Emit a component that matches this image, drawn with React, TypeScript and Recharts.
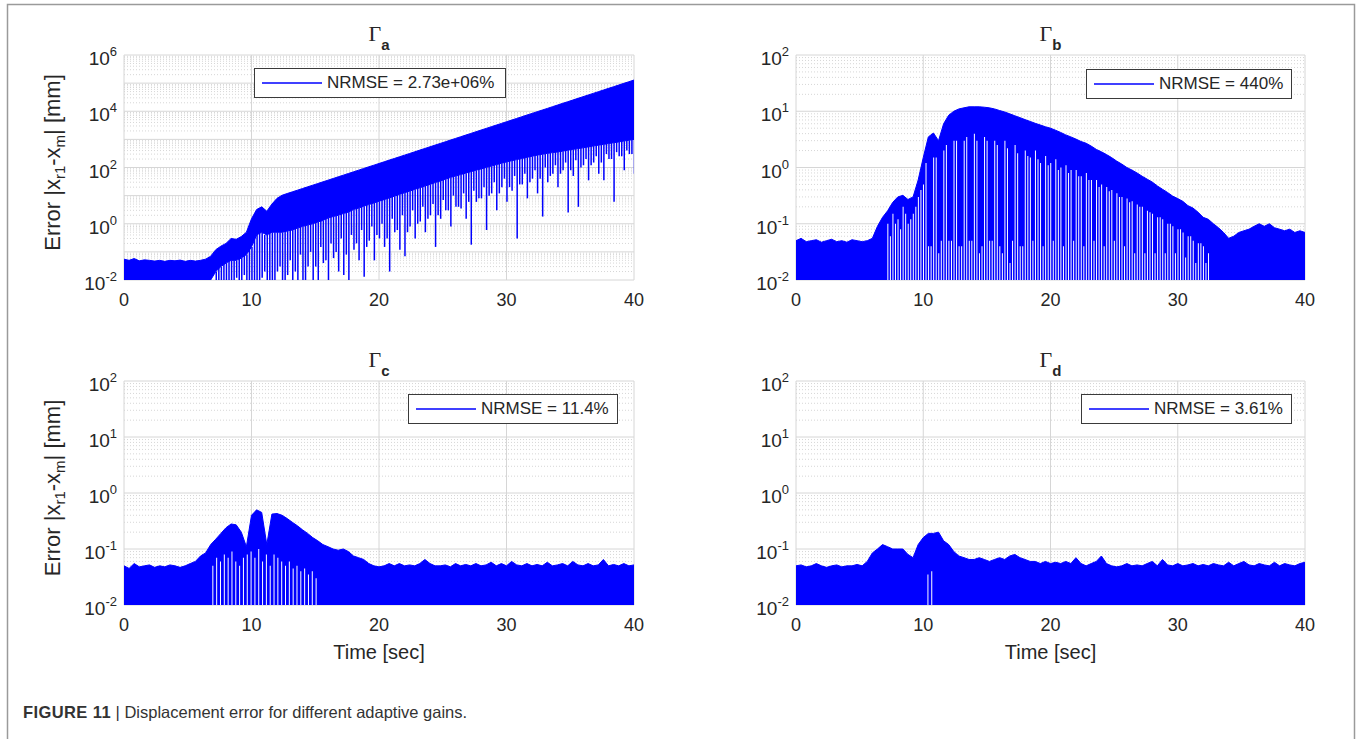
import React from 'react';
import { ComposedChart, Area, Bar, XAxis, YAxis, CartesianGrid, Legend } from 'recharts';

// sample times (s), shared by the four envelopes, ten per row
const TIME = [
  0, 0.4, 0.8, 1.2, 1.6, 2, 2.4, 2.8, 3.2, 3.6,
  4, 4.4, 4.8, 5.2, 5.6, 6, 6.4, 6.8, 7.2, 7.6,
  8, 8.4, 8.8, 9.2, 9.6, 10, 10.4, 10.8, 11.2, 11.6,
  12, 12.4, 12.8, 13.2, 13.6, 14, 14.4, 14.8, 15.2, 15.6,
  16, 16.4, 16.8, 17.2, 17.6, 18, 18.4, 18.8, 19.2, 19.6,
  20, 20.4, 20.8, 21.2, 21.6, 22, 22.4, 22.8, 23.2, 23.6,
  24, 24.4, 24.8, 25.2, 25.6, 26, 26.4, 26.8, 27.2, 27.6,
  28, 28.4, 28.8, 29.2, 29.6, 30, 30.4, 30.8, 31.2, 31.6,
  32, 32.4, 32.8, 33.2, 33.6, 34, 34.4, 34.8, 35.2, 35.6,
  36, 36.4, 36.8, 37.2, 37.6, 38, 38.4, 38.8, 39.2, 39.6,
  40,
];
// the second set of dips / gaps sits this far before each sample
const HALF_STEP = 0.2;

// Gamma_a: top of the signal, bottom of the dense band, and how deep each dip goes
const UPPER_A = [
  0.055, 0.05, 0.058, 0.048, 0.052, 0.05, 0.047, 0.05, 0.046, 0.05,
  0.048, 0.051, 0.046, 0.05, 0.047, 0.05, 0.055, 0.07, 0.12, 0.16,
  0.2, 0.3, 0.28, 0.35, 0.5, 1.5, 3.2, 4, 2.8, 5,
  8, 10.3, 11.9, 13.6, 15.6, 17.9, 20.5, 23.5, 26.9, 30.9,
  35.4, 40.6, 46.6, 53.4, 61.2, 70.1, 80.4, 92.2, 106, 121,
  139, 159, 183, 209, 240, 275, 315, 361, 415, 475,
  545, 625, 716, 821, 942, 1080, 1237, 1419, 1626, 1864,
  2138, 2449, 2812, 3221, 3690, 4236, 4853, 5559, 6383, 7311,
  8375, 9616, 1.1e4, 1.26e4, 1.45e4, 1.66e4, 1.91e4, 2.18e4, 2.5e4, 2.87e4,
  3.29e4, 3.77e4, 4.32e4, 4.95e4, 5.68e4, 6.51e4, 7.46e4, 8.56e4, 9.82e4, 1.12e5,
  1.29e5,
];
const BAND_A = [
  0.01, 0.01, 0.01, 0.01, 0.01, 0.01, 0.01, 0.01, 0.01, 0.01,
  0.01, 0.01, 0.01, 0.01, 0.01, 0.01, 0.01, 0.01, 0.02, 0.03,
  0.04, 0.05, 0.05, 0.06, 0.08, 0.15, 0.4, 0.5, 0.4, 0.5,
  0.5, 0.5, 0.55, 0.6, 0.7, 0.8, 0.9, 1.0, 1.15, 1.3,
  1.6, 1.8, 2.0, 2.3, 2.6, 3.2, 3.6, 4.2, 4.8, 5.5,
  6.3, 7.2, 8.3, 9.5, 11, 12.6, 14.5, 16.6, 19, 22,
  25, 29, 33, 38, 44, 50, 56, 63, 71, 80,
  89, 100, 112, 126, 141, 158, 174, 191, 209, 229,
  251, 275, 295, 316, 339, 355, 380, 410, 440, 470,
  500, 540, 580, 620, 660, 710, 760, 810, 870, 930,
  1000,
];
const DIP_A: (number | null)[] = [
  null, null, null, null, null, null, null, null, null, null,
  null, null, null, null, null, null, null, null, 0.01, 0.01,
  0.01, 0.01, 0.012, 0.01, 0.01, 0.01, 0.01, 0.012, 0.01, 0.01,
  0.02, 0.01, 0.015, 0.01, 0.01, 0.01, 0.03, 0.01, 0.01, 0.04,
  0.01, 0.06, 0.02, 0.015, 0.01, 0.12, 0.05, 0.013, 0.25, 0.05,
  0.3, 0.15, 0.02, 0.5, 0.12, 0.07, 0.8, 0.3, 1.2, 0.5,
  2, 0.15, 1.5, 3, 0.8, 4, 3.5, 1.5, 0.18, 6,
  8, 0.6, 12, 3, 20, 6, 15, 0.3, 25, 8,
  40, 12, 1.8, 30, 60, 20, 80, 2.5, 50, 4,
  120, 35, 150, 60, 35, 200, 6, 250, 80, 300,
  60,
];
// dips half a step earlier than each sample
const DIP2_A: (number | null)[] = [
  null, null, null, null, null, null, null, null, null, null,
  null, null, null, null, null, null, null, null, null, 0.01,
  0.01, 0.01, 0.01, 0.01, 0.015, 0.01, 0.01, 0.01, 0.02, 0.01,
  0.01, 0.03, 0.01, 0.05, 0.02, 0.08, 0.01, 0.1, 0.03, 0.15,
  0.05, 0.2, 0.1, 0.3, 0.08, 0.4, 0.2, 0.6, 0.15, 0.8,
  0.4, 1.0, 0.3, 1.5, 0.6, 2, 0.5, 3, 1, 4,
  1.5, 5, 2, 7, 3, 10, 4, 12, 6, 15,
  8, 20, 10, 30, 12, 40, 20, 50, 25, 60,
  30, 80, 40, 100, 50, 120, 60, 150, 80, 180,
  100, 200, 120, 250, 150, 300, 200, 350, 250, 400,
  300,
];

// Gamma_b: top of the signal and the white gaps running up from the floor
const UPPER_B = [
  0.05, 0.055, 0.048, 0.05, 0.052, 0.047, 0.05, 0.053, 0.048, 0.05,
  0.047, 0.052, 0.05, 0.048, 0.05, 0.055, 0.09, 0.13, 0.17, 0.24,
  0.3, 0.32, 0.27, 0.3, 0.6, 1.5, 3.5, 4.1, 3.0, 6,
  8.5, 10, 11, 11.5, 12, 12, 12, 11.8, 11.5, 11,
  10.3, 9.7, 9, 8.3, 7.7, 7.1, 6.6, 6.1, 5.7, 5.3,
  5.0, 4.6, 4.2, 3.8, 3.5, 3.2, 2.9, 2.7, 2.4, 2.1,
  1.9, 1.7, 1.5, 1.3, 1.15, 1.0, 0.9, 0.8, 0.7, 0.62,
  0.55, 0.47, 0.41, 0.36, 0.31, 0.28, 0.25, 0.21, 0.19, 0.16,
  0.13, 0.12, 0.1, 0.085, 0.07, 0.055, 0.06, 0.07, 0.075, 0.08,
  0.09, 0.1, 0.09, 0.1, 0.085, 0.08, 0.075, 0.08, 0.07, 0.075,
  0.07,
];
const GAP_B: (number | null)[] = [
  null, null, null, null, null, null, null, null, null, null,
  null, null, null, null, null, null, null, null, 0.1, 0.15,
  0.12, 0.2, 0.1, 0.15, 0.3, 0.5, 0.04, 1.5, 0.03, 2,
  0.05, 3, 0.04, 3, 0.05, 4, 0.03, 3.5, 0.05, 3,
  0.04, 3, 0.02, 2.5, 0.04, 2, 1.5, 2, 1.2, 1.6,
  1.2, 1.4, 1.0, 1.1, 0.9, 0.9, 0.7, 0.8, 0.6, 0.6,
  0.5, 0.45, 0.4, 0.35, 0.3, 0.28, 0.25, 0.22, 0.2, 0.17,
  0.15, 0.13, 0.12, 0.1, 0.09, 0.08, 0.07, 0.06, 0.05, 0.045,
  0.04, 0.03, null, null, null, null, null, null, null, null,
  null, null, null, null, null, null, null, null, null, null,
  null,
];
const GAP2_B: (number | null)[] = [
  null, null, null, null, null, null, null, null, null, null,
  null, null, null, null, null, null, null, null, null, 0.06,
  0.1, 0.08, 0.15, 0.12, 0.2, 0.4, 1.2, 0.04, 1.5, 0.05,
  2.5, 0.05, 3, 0.04, 3.5, 0.05, 3, 0.04, 3, 0.05,
  2.5, 0.03, 2.2, 0.05, 1.8, 0.04, 1.6, 0.05, 1.4, 0.04,
  1.1, 0.05, 0.9, 0.04, 0.8, 0.05, 0.7, 0.04, 0.6, 0.05,
  0.45, 0.04, 0.38, 0.05, 0.3, 0.04, 0.24, 0.03, 0.2, 0.03,
  0.16, 0.03, 0.13, 0.03, 0.1, 0.03, 0.08, 0.025, 0.06, 0.02,
  0.045, 0.02, null, null, null, null, null, null, null, null,
  null, null, null, null, null, null, null, null, null, null,
  null,
];

// Gamma_c
const UPPER_C = [
  0.05, 0.045, 0.055, 0.048, 0.05, 0.052, 0.047, 0.05, 0.048, 0.052,
  0.05, 0.047, 0.05, 0.055, 0.06, 0.075, 0.085, 0.12, 0.15, 0.19,
  0.24, 0.28, 0.27, 0.2, 0.11, 0.4, 0.5, 0.45, 0.12, 0.42,
  0.43, 0.4, 0.35, 0.3, 0.26, 0.22, 0.19, 0.16, 0.14, 0.12,
  0.11, 0.1, 0.095, 0.1, 0.09, 0.075, 0.07, 0.065, 0.055, 0.05,
  0.048, 0.05, 0.055, 0.05, 0.055, 0.05, 0.052, 0.05, 0.055, 0.065,
  0.055, 0.05, 0.05, 0.052, 0.048, 0.055, 0.05, 0.053, 0.05, 0.055,
  0.05, 0.052, 0.058, 0.05, 0.055, 0.05, 0.06, 0.052, 0.05, 0.055,
  0.05, 0.053, 0.05, 0.058, 0.05, 0.052, 0.055, 0.05, 0.06, 0.052,
  0.05, 0.055, 0.05, 0.052, 0.065, 0.05, 0.053, 0.05, 0.055, 0.05,
  0.052,
];
const GAP_T_C = [
  7.0, 7.3, 7.6, 7.9, 8.2, 8.5, 8.8, 9.1, 9.4, 9.7, 10.0, 10.3, 10.6, 10.9,
  11.2, 11.5, 11.8, 12.1, 12.4, 12.7, 13.0, 13.3, 13.6, 13.9, 14.2, 14.5, 14.8, 15.1,
];
const GAP_C = [
  0.05, 0.07, 0.06, 0.08, 0.07, 0.09, 0.06, 0.05, 0.07, 0.08, 0.09, 0.07, 0.1, 0.06,
  0.08, 0.05, 0.08, 0.07, 0.06, 0.05, 0.06, 0.045, 0.05, 0.04, 0.045, 0.035, 0.04, 0.03,
];

// Gamma_d
const UPPER_D = [
  0.05, 0.052, 0.048, 0.05, 0.055, 0.05, 0.047, 0.05, 0.052, 0.048,
  0.05, 0.05, 0.053, 0.05, 0.06, 0.085, 0.1, 0.12, 0.11, 0.1,
  0.1, 0.1, 0.08, 0.07, 0.12, 0.16, 0.19, 0.19, 0.2, 0.14,
  0.12, 0.09, 0.075, 0.07, 0.065, 0.065, 0.07, 0.065, 0.06, 0.065,
  0.07, 0.065, 0.075, 0.08, 0.07, 0.065, 0.06, 0.06, 0.055, 0.06,
  0.055, 0.058, 0.055, 0.06, 0.055, 0.07, 0.055, 0.05, 0.055, 0.06,
  0.075, 0.055, 0.05, 0.048, 0.05, 0.055, 0.05, 0.052, 0.05, 0.055,
  0.06, 0.05, 0.065, 0.052, 0.05, 0.055, 0.05, 0.052, 0.055, 0.05,
  0.053, 0.05, 0.055, 0.052, 0.05, 0.058, 0.05, 0.055, 0.06, 0.052,
  0.05, 0.055, 0.052, 0.05, 0.058, 0.05, 0.055, 0.052, 0.05, 0.055,
  0.058,
];
const GAP_T_D = [10.4, 10.7];
const GAP_D = [0.035, 0.04];

const X_TICKS = [0, 10, 20, 30, 40];
const Y_TICKS_A = [1e-2, 1e0, 1e2, 1e4, 1e6];
const Y_TICKS = [1e-2, 1e-1, 1e0, 1e1, 1e2];
const NRMSE = ['2.73e+06%', '440%', '11.4%', '3.61%'];
const Y_MIN = 0.01;

const SANS = '"Liberation Sans", Arial, Helvetica, sans-serif';
const SERIF = '"Liberation Serif", "Times New Roman", serif';
const INK = '#262626';
const BLUE = '#0000ff';
const GRID = '#d6d6d6';

const M_TOP = 55;
const M_LEFT = 65;
const M_RIGHT = 40;
const M_BOTTOM = 40;
const Y_W = 60;
const X_H = 30;

type Row = { t: number; v: [number, number] };

const envRows = (upper: number[], lower?: number[]): Row[] =>
  TIME.map((t, i) => ({ t, v: [lower ? lower[i] : Y_MIN, upper[i]] as [number, number] }));

// one bar per listed value, reaching from lo(i) up to hi(i)
const markRows = (vals: (number | null)[], shift: number, lo: (v: number, i: number) => number, hi: (v: number, i: number) => number): Row[] =>
  TIME.flatMap((t, i) => {
    const v = vals[i];
    return v == null ? [] : [{ t: t - shift, v: [lo(v, i), hi(v, i)] as [number, number] }];
  });

const ENV_A = envRows(UPPER_A, BAND_A);
const ENV_B = envRows(UPPER_B);
const ENV_C = envRows(UPPER_C);
const ENV_D = envRows(UPPER_D);

const MARKS_A: Row[] = [
  ...markRows(DIP_A, 0, (v) => v, (_v, i) => BAND_A[i]),
  ...markRows(DIP2_A, HALF_STEP, (v) => v, (_v, i) => BAND_A[i]),
].sort((a, b) => a.t - b.t);
const MARKS_B: Row[] = [
  ...markRows(GAP_B, 0, () => Y_MIN, (v) => v),
  ...markRows(GAP2_B, HALF_STEP, () => Y_MIN, (v) => v),
].sort((a, b) => a.t - b.t);
const MARKS_C: Row[] = GAP_T_C.map((t, i) => ({ t, v: [Y_MIN, GAP_C[i]] }));
const MARKS_D: Row[] = GAP_T_D.map((t, i) => ({ t, v: [Y_MIN, GAP_D[i]] }));

function decades(hi: number) {
  const out: number[] = [];
  for (let e = -2; e <= Math.round(Math.log10(hi)); e++) out.push(Math.pow(10, e));
  return out;
}
function minors(hi: number) {
  const out: number[] = [];
  for (let e = -2; e < Math.round(Math.log10(hi)); e++) {
    for (let m = 2; m <= 9; m++) out.push(m * Math.pow(10, e));
  }
  return out;
}

type Panel = {
  sub: string;
  plotX: number;
  plotY: number;
  plotW: number;
  plotH: number;
  yMax: number;
  yTicks: number[];
  env: Row[];
  marks: Row[];
  markColor: string;
  markWidth: number;
  legend: { x: number; y: number; w: number; text: string };
  yLabel: boolean;
  xLabel: boolean;
};

const PANELS: Panel[] = [
  {
    sub: 'a', plotX: 124, plotY: 55, plotW: 510, plotH: 225, yMax: 1e6, yTicks: Y_TICKS_A,
    env: ENV_A, marks: MARKS_A, markColor: BLUE, markWidth: 1.5,
    legend: { x: 254, y: 68, w: 252, text: `NRMSE = ${NRMSE[0]}` }, yLabel: true, xLabel: false,
  },
  {
    sub: 'b', plotX: 796, plotY: 55, plotW: 509, plotH: 225, yMax: 100, yTicks: Y_TICKS,
    env: ENV_B, marks: MARKS_B, markColor: '#ffffff', markWidth: 1,
    legend: { x: 1086, y: 69, w: 206, text: `NRMSE = ${NRMSE[1]}` }, yLabel: false, xLabel: false,
  },
  {
    sub: 'c', plotX: 124, plotY: 381, plotW: 510, plotH: 224, yMax: 100, yTicks: Y_TICKS,
    env: ENV_C, marks: MARKS_C, markColor: '#ffffff', markWidth: 1,
    legend: { x: 408, y: 394, w: 210, text: `NRMSE = ${NRMSE[2]}` }, yLabel: true, xLabel: true,
  },
  {
    sub: 'd', plotX: 796, plotY: 381, plotW: 509, plotH: 224, yMax: 100, yTicks: Y_TICKS,
    env: ENV_D, marks: MARKS_D, markColor: '#ffffff', markWidth: 1,
    legend: { x: 1081, y: 394, w: 211, text: `NRMSE = ${NRMSE[3]}` }, yLabel: false, xLabel: true,
  },
];

const XTick = (props: any) => {
  const { x, y, payload } = props;
  return (
    <text x={x} y={y + 26} textAnchor="middle" fontFamily={SANS} fontSize={18} fill={INK}>
      {payload.value}
    </text>
  );
};

const YTick = (props: any) => {
  const { x, y, payload } = props;
  const e = Math.round(Math.log10(payload.value));
  return (
    <text x={x} y={y + 10} textAnchor="end" fontFamily={SANS} fontSize={19} fill={INK}>
      10
      <tspan dy={-9} fontSize={13}>{`${e}`}</tspan>
    </text>
  );
};

const LegendBox = ({ w, text }: { w: number; text: string }) => (
  <div
    style={{
      boxSizing: 'border-box',
      width: w,
      height: 30,
      border: '1px solid #3a3a3a',
      background: '#fff',
      display: 'flex',
      alignItems: 'center',
      paddingLeft: 7,
      fontFamily: SANS,
      fontSize: 17,
      color: INK,
      whiteSpace: 'nowrap',
    }}
  >
    <svg width={60} height={4} style={{ display: 'block' }}>
      <line x1={0} x2={60} y1={2} y2={2} stroke={BLUE} strokeWidth={1.5} />
    </svg>
    <span style={{ marginLeft: 5 }}>{text}</span>
  </div>
);

function PanelCharts({ p }: { p: Panel }) {
  const w = M_LEFT + Y_W + p.plotW + M_RIGHT;
  const h = M_TOP + p.plotH + X_H + M_BOTTOM;
  const left = p.plotX - M_LEFT - Y_W;
  const top = p.plotY - M_TOP;
  const margin = { top: M_TOP, right: M_RIGHT, bottom: M_BOTTOM, left: M_LEFT };
  const yDomain: [number, number] = [Y_MIN, p.yMax];
  const dec = decades(p.yMax);
  const minor = minors(p.yMax);
  const pos: React.CSSProperties = { position: 'absolute', left, top };
  const yCommon = { type: 'number' as const, scale: 'log' as const, domain: yDomain, allowDataOverflow: true, interval: 0 as const };
  const xCommon = { type: 'number' as const, domain: [0, 40] as [number, number], allowDataOverflow: true, interval: 0 as const };

  return (
    <>
      <div style={pos}>
        <ComposedChart width={w} height={h} data={p.env} margin={margin}>
          <CartesianGrid horizontalValues={minor} vertical={false} stroke={GRID} strokeDasharray="1 2" />
          <CartesianGrid horizontalValues={dec} verticalValues={X_TICKS} stroke={GRID} />
          <XAxis dataKey="t" {...xCommon} ticks={X_TICKS} height={X_H} axisLine={false} tickLine={false} tickSize={0} tickMargin={0} tick={<XTick />} />
          <YAxis {...yCommon} ticks={p.yTicks} width={Y_W} axisLine={false} tickLine={false} tickSize={0} tickMargin={7} tick={<YTick />} />
          <Area
            dataKey="v"
            type="linear"
            stroke={BLUE}
            strokeWidth={1}
            fill={BLUE}
            fillOpacity={1}
            dot={false}
            activeDot={false}
            isAnimationActive={false}
          />
        </ComposedChart>
      </div>
      <div style={pos}>
        <ComposedChart width={w} height={h} data={p.marks} margin={margin}>
          <XAxis xAxisId="bm" {...xCommon} ticks={X_TICKS} orientation="bottom" mirror height={0} tick={false} tickSize={5} axisLine={{ stroke: INK }} tickLine={{ stroke: INK }} />
          <XAxis xAxisId="tm" {...xCommon} ticks={X_TICKS} orientation="top" mirror height={0} tick={false} tickSize={5} axisLine={{ stroke: INK }} tickLine={{ stroke: INK }} />
          <YAxis yAxisId="lm" {...yCommon} ticks={dec} orientation="left" mirror width={0} tick={false} tickSize={5} axisLine={{ stroke: INK }} tickLine={{ stroke: INK }} />
          <YAxis yAxisId="ln" {...yCommon} ticks={minor} orientation="left" mirror width={0} tick={false} tickSize={3} axisLine={false} tickLine={{ stroke: INK }} />
          <YAxis yAxisId="rm" {...yCommon} ticks={dec} orientation="right" mirror width={0} tick={false} tickSize={5} axisLine={{ stroke: INK }} tickLine={{ stroke: INK }} />
          <YAxis yAxisId="rn" {...yCommon} ticks={minor} orientation="right" mirror width={0} tick={false} tickSize={3} axisLine={false} tickLine={{ stroke: INK }} />
          <XAxis dataKey="t" {...xCommon} ticks={X_TICKS} height={X_H} axisLine={false} tickLine={false} tick={false} />
          <YAxis {...yCommon} ticks={p.yTicks} width={Y_W} axisLine={false} tickLine={false} tick={false} />
          <Bar dataKey="v" fill={p.markColor} barSize={p.markWidth} isAnimationActive={false} />
          <Legend
            layout="horizontal"
            verticalAlign="middle"
            align="center"
            wrapperStyle={{ left: p.legend.x - left, top: p.legend.y - top, width: p.legend.w, height: 30 }}
            content={() => <LegendBox w={p.legend.w} text={p.legend.text} />}
          />
        </ComposedChart>
      </div>
    </>
  );
}

export default function App() {
  return (
    <div style={{ position: 'absolute', left: 0, top: 0, width: 1362, height: 739, overflow: 'hidden', background: '#fff' }}>
      {PANELS.map((p) => (
        <PanelCharts key={p.sub} p={p} />
      ))}
      <svg width={1362} height={739} style={{ position: 'absolute', left: 0, top: 0, pointerEvents: 'none' }}>
        <polyline points="7.5,739 7.5,4.5 1354.5,4.5 1354.5,739" fill="none" stroke="#9a9a9a" strokeWidth={1.5} />
        {PANELS.map((p) => (
          <text key={`t${p.sub}`} x={p.plotX + p.plotW / 2} y={p.plotY - 14} textAnchor="middle" fill={INK}>
            <tspan fontFamily={SERIF} fontSize={22}>Γ</tspan>
            <tspan fontFamily={SANS} fontWeight="bold" fontSize={15} dy={9}>{p.sub}</tspan>
          </text>
        ))}
        {PANELS.filter((p) => p.yLabel).map((p) => (
          <text
            key={`y${p.sub}`}
            transform={`translate(60, ${p.plotY + p.plotH / 2 - 5}) rotate(-90)`}
            textAnchor="middle"
            fontFamily={SANS}
            fontSize={22}
            fill={INK}
          >
            Error |x<tspan dy={5} fontSize={15}>r1</tspan>
            <tspan dy={-5}>-x</tspan>
            <tspan dy={5} fontSize={15}>m</tspan>
            <tspan dy={-5}>| [mm]</tspan>
          </text>
        ))}
        {PANELS.filter((p) => p.xLabel).map((p) => (
          <text key={`x${p.sub}`} x={p.plotX + p.plotW / 2} y={p.plotY + p.plotH + 54} textAnchor="middle" fontFamily={SANS} fontSize={20} fill={INK}>
            Time [sec]
          </text>
        ))}
        <text x={23} y={718} fontFamily={SANS} fontSize={16.5} fill="#333">
          <tspan fontWeight="bold" letterSpacing={0.4}>FIGURE 11</tspan>
          <tspan> | Displacement error for different adaptive gains.</tspan>
        </text>
      </svg>
    </div>
  );
}
